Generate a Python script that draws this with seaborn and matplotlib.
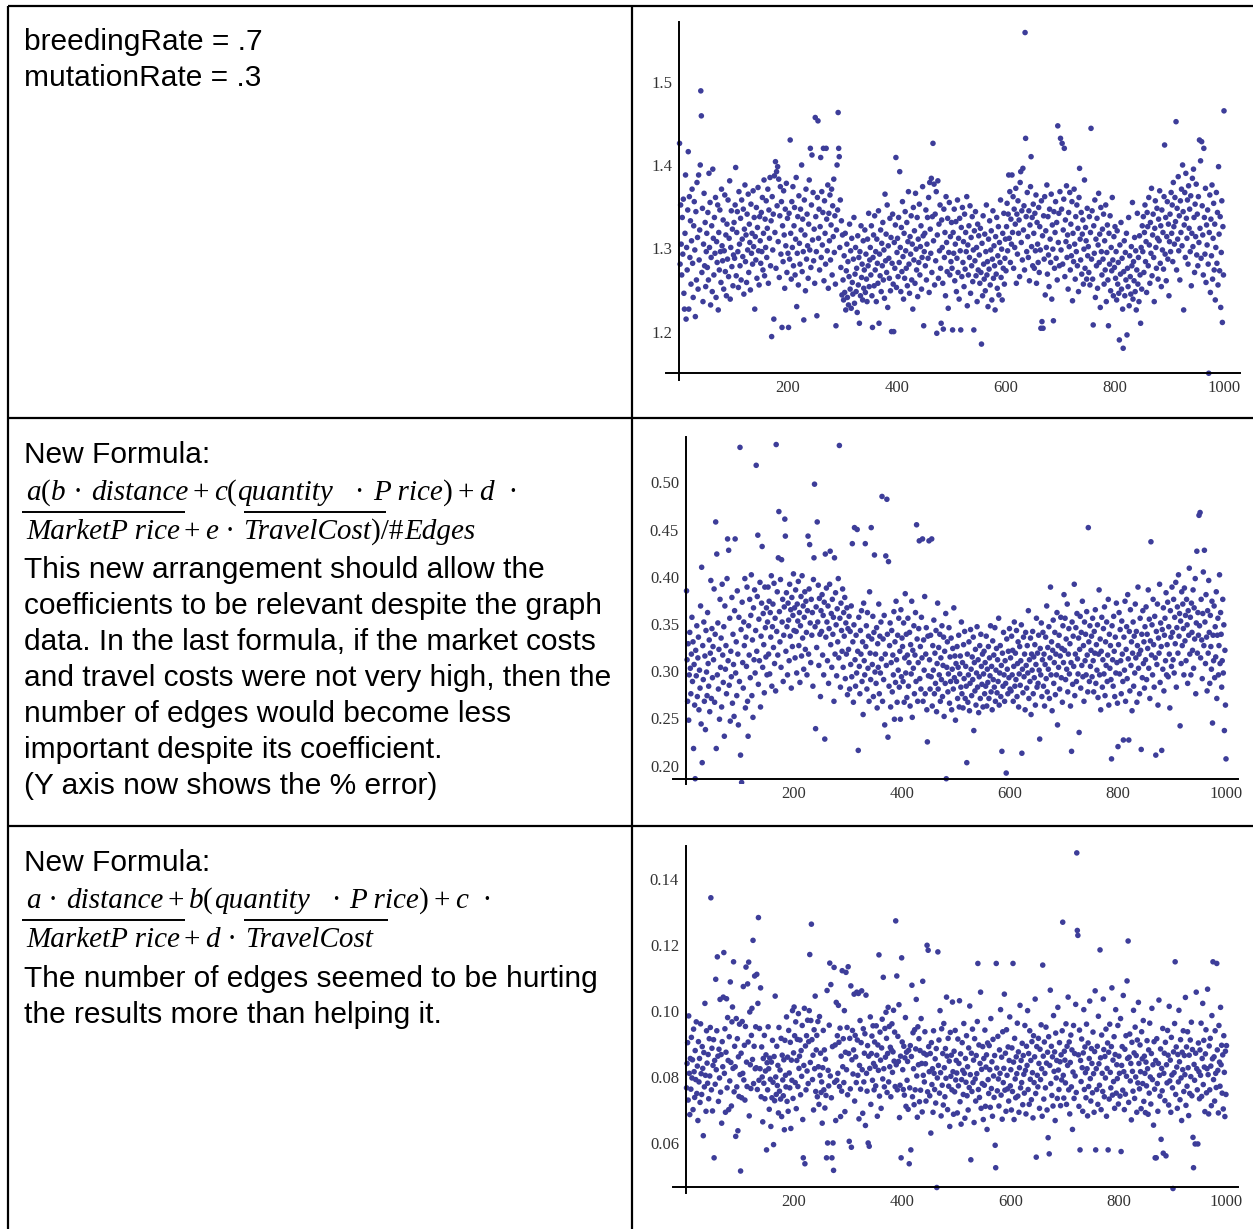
import numpy as np
import matplotlib
matplotlib.use("Agg")
import matplotlib.pyplot as plt
from matplotlib.lines import Line2D
from matplotlib.ticker import FixedLocator, FormatStrFormatter
import seaborn as sns

# ---------------------------------------------------------------------------
# Error per generation for three runs of the genetic algorithm (1000 points).
# ---------------------------------------------------------------------------

# Run 1 (breedingRate .7, mutationRate .3): thousandths above 1.0
base_err_k = [
    426, 281, 352, 305, 268, 337, 293, 359, 246, 227, 318, 388, 215, 301, 274, 346, 416, 227, 362, 289,
    333, 257, 309, 371, 282, 241, 327, 356, 298, 218, 344, 262, 379, 313, 251, 388, 286, 322, 400, 489,
    459, 271, 348, 236, 305, 366, 279, 331, 254, 296, 318, 277, 343, 262, 390, 301, 355, 232, 289, 327,
    248, 395, 312, 268, 337, 294, 361, 241, 308, 283, 352, 226, 319, 274, 346, 296, 259, 371, 303, 285,
    334, 251, 297, 364, 272, 316, 243, 329, 287, 358, 266, 312, 381, 239, 301, 345, 278, 323, 255, 292,
    331, 288, 352, 397, 267, 319, 344, 296, 253, 368, 305, 279, 336, 262, 358, 311, 290, 347, 245, 323,
    376, 284, 316, 259, 341, 298, 365, 271, 329, 307, 250, 353, 294, 318, 281, 369, 302, 337, 227, 314,
    286, 349, 264, 325, 373, 297, 256, 338, 309, 282, 343, 296, 361, 274, 318, 382, 267, 335, 301, 357,
    289, 324, 371, 258, 346, 312, 385, 279, 333, 194, 362, 298, 341, 215, 387, 319, 404, 276, 392, 351,
    398, 308, 383, 265, 339, 374, 293, 356, 205, 327, 284, 369, 316, 252, 347, 303, 378, 271, 336, 294,
    205, 342, 287, 430, 318, 263, 356, 301, 374, 279, 327, 349, 268, 311, 385, 230, 294, 338, 256, 363,
    306, 281, 347, 322, 400, 272, 335, 296, 214, 358, 316, 249, 371, 287, 341, 303, 264, 329, 382, 298,
    420, 277, 352, 412, 310, 367, 285, 323, 258, 457, 338, 296, 219, 361, 453, 312, 347, 274, 326, 409,
    289, 368, 304, 343, 420, 261, 357, 318, 281, 420, 335, 297, 376, 252, 342, 309, 364, 286, 328, 371,
    268, 351, 314, 383, 295, 339, 257, 207, 322, 400, 346, 463, 420, 410, 301, 358, 277, 333, 244, 316,
    262, 238, 291, 247, 318, 226, 273, 305, 241, 284, 232, 266, 329, 251, 297, 228, 312, 259, 245, 287,
    337, 234, 269, 301, 248, 276, 223, 315, 256, 289, 210, 296, 243, 327, 265, 281, 238, 309, 252, 274,
    322, 247, 293, 263, 236, 311, 279, 342, 254, 286, 301, 268, 327, 243, 205, 289, 316, 255, 339, 274,
    296, 236, 311, 282, 258, 345, 210, 293, 267, 322, 248, 306, 279, 331, 262, 298, 240, 365, 285, 317,
    271, 352, 229, 303, 288, 264, 336, 249, 313, 200, 282, 341, 257, 200, 307, 276, 328, 409, 253, 295,
    312, 266, 337, 283, 392, 301, 248, 325, 272, 356, 290, 239, 318, 264, 344, 297, 276, 331, 255, 308,
    368, 281, 246, 314, 293, 339, 262, 305, 227, 349, 286, 321, 258, 366, 299, 274, 337, 242, 311, 283,
    353, 268, 302, 327, 251, 289, 374, 315, 207, 296, 318, 279, 346, 262, 305, 337, 288, 361, 247, 379,
    323, 294, 384, 271, 338, 426, 309, 377, 256, 341, 285, 368, 198, 316, 381, 264, 329, 297, 352, 276,
    210, 334, 301, 258, 203, 347, 289, 319, 243, 362, 307, 272, 336, 228, 295, 355, 268, 314, 284, 331,
    276, 202, 319, 294, 347, 261, 305, 332, 248, 288, 358, 271, 312, 239, 336, 297, 202, 325, 266, 349,
    283, 308, 254, 341, 275, 319, 296, 362, 231, 304, 268, 327, 289, 351, 246, 313, 279, 338, 260, 298,
    202, 321, 285, 344, 267, 301, 236, 329, 274, 315, 292, 258, 324, 271, 185, 306, 243, 339, 281, 263,
    317, 249, 296, 352, 268, 284, 230, 311, 275, 333, 256, 298, 321, 238, 287, 345, 264, 303, 279, 226,
    314, 269, 337, 252, 291, 326, 244, 307, 283, 358, 265, 299, 238, 318, 276, 342, 257, 288, 311, 273,
    326, 354, 297, 341, 388, 312, 368, 283, 335, 305, 388, 319, 362, 276, 347, 301, 329, 372, 258, 341,
    293, 357, 318, 334, 266, 379, 392, 307, 345, 286, 396, 322, 351, 274, 559, 432, 338, 296, 367, 314,
    289, 345, 261, 328, 374, 410, 302, 337, 279, 353, 318, 276, 342, 297, 364, 258, 331, 305, 283, 349,
    271, 326, 298, 204, 357, 212, 315, 204, 339, 287, 362, 244, 321, 301, 376, 269, 338, 292, 254, 347,
    311, 283, 365, 239, 328, 299, 213, 344, 276, 319, 356, 288, 331, 262, 447, 307, 342, 279, 368, 432,
    298, 347, 426, 281, 322, 359, 420, 266, 334, 308, 375, 289, 316, 251, 343, 302, 367, 274, 329, 291,
    356, 237, 318, 284, 371, 305, 263, 338, 296, 352, 279, 324, 248, 361, 396, 311, 286, 343, 269, 317,
    334, 257, 299, 382, 276, 325, 309, 263, 348, 291, 302, 271, 338, 256, 319, 444, 287, 345, 263, 208,
    327, 294, 358, 241, 311, 279, 336, 252, 304, 366, 283, 317, 229, 349, 296, 268, 323, 287, 341, 257,
    309, 274, 352, 236, 295, 328, 262, 207, 318, 281, 339, 249, 301, 273, 361, 286, 243, 314, 277, 326,
    264, 296, 238, 321, 257, 283, 246, 190, 304, 269, 331, 251, 288, 227, 180, 272, 309, 243, 295, 262,
    318, 196, 276, 254, 337, 231, 291, 266, 245, 302, 279, 355, 239, 284, 261, 313, 248, 297, 226, 274,
    342, 257, 289, 236, 315, 268, 210, 301, 251, 327, 296, 338, 271, 319, 352, 284, 308, 247, 343, 326,
    279, 361, 304, 258, 331, 294, 372, 267, 316, 341, 289, 236, 324, 357, 301, 276, 348, 312, 263, 335,
    309, 369, 282, 327, 254, 346, 298, 319, 275, 362, 424, 293, 337, 261, 314, 356, 287, 329, 243, 308,
    341, 296, 367, 318, 352, 284, 379, 326, 305, 361, 332, 452, 274, 348, 311, 386, 297, 339, 262, 357,
    319, 371, 303, 400, 344, 226, 328, 367, 289, 390, 336, 312, 358, 281, 375, 324, 347, 296, 363, 255,
    318, 384, 302, 395, 337, 271, 353, 314, 377, 292, 341, 279, 362, 307, 430, 324, 405, 288, 428, 351,
    316, 268, 420, 337, 293, 372, 259, 328, 304, 346, 281, 150, 319, 364, 247, 335, 291, 376, 263, 312,
    354, 274, 329, 238, 301, 367, 282, 343, 256, 398, 317, 273, 338, 229, 295, 357, 211, 326, 268, 465,
]

# Run 2 (formula divided by #Edges): error in thousandths
edges_err_k = [
    385, 312, 268, 329, 248, 296, 341, 303, 276, 318, 357, 289, 331, 218, 307, 264, 186, 322, 295, 348,
    273, 314, 336, 259, 301, 282, 369, 244, 410, 203, 327, 291, 352, 268, 316, 238, 343, 299, 274, 362,
    308, 284, 333, 257, 319, 396, 271, 345, 293, 326, 312, 387, 267, 339, 458, 218, 424, 296, 351, 281,
    323, 249, 376, 304, 335, 262, 392, 317, 288, 347, 231, 369, 302, 327, 276, 398, 440, 311, 428, 285,
    356, 247, 321, 294, 378, 266, 339, 307, 252, 364, 440, 298, 331, 274, 385, 318, 243, 357, 289, 537,
    211, 344, 182, 373, 309, 282, 352, 327, 398, 261, 336, 305, 389, 268, 231, 348, 317, 376, 293, 359,
    402, 274, 333, 251, 367, 312, 386, 298, 343, 518, 321, 379, 444, 286, 355, 311, 394, 262, 337, 372,
    432, 304, 361, 328, 277, 389, 346, 315, 367, 296, 352, 389, 318, 374, 297, 362, 336, 401, 284, 347,
    371, 325, 393, 308, 356, 279, 540, 342, 384, 317, 420, 469, 363, 331, 397, 304, 418, 352, 376, 289,
    338, 368, 461, 443, 321, 383, 347, 296, 372, 354, 311, 392, 337, 365, 282, 378, 326, 359, 403, 343,
    367, 314, 386, 342, 298, 371, 353, 395, 327, 362, 288, 348, 379, 316, 401, 335, 369, 302, 357, 384,
    323, 374, 341, 296, 364, 443, 318, 387, 434, 351, 309, 376, 338, 362, 284, 397, 420, 498, 347, 239,
    368, 325, 458, 352, 391, 306, 377, 339, 273, 364, 342, 381, 317, 359, 296, 373, 228, 424, 336, 388,
    352, 311, 369, 287, 345, 392, 427, 328, 361, 304, 376, 339, 357, 268, 420, 318, 383, 349, 295, 366,
    331, 398, 314, 539, 356, 283, 372, 343, 321, 387, 304, 362, 337, 378, 292, 351, 318, 367, 275, 345,
    323, 358, 281, 342, 307, 369, 294, 435, 331, 267, 349, 452, 312, 284, 338, 298, 450, 321, 216, 357,
    305, 276, 343, 318, 364, 289, 331, 254, 372, 311, 296, 435, 326, 348, 281, 362, 303, 337, 268, 384,
    319, 291, 452, 334, 307, 358, 273, 341, 423, 299, 318, 287, 346, 261, 329, 304, 371, 276, 337, 298,
    352, 313, 485, 268, 334, 291, 359, 243, 318, 422, 306, 482, 339, 230, 416, 284, 327, 351, 262, 309,
    343, 278, 317, 296, 363, 249, 331, 288, 374, 312, 267, 338, 301, 356, 283, 321, 249, 365, 294, 335,
    326, 289, 351, 267, 314, 382, 298, 339, 272, 317, 356, 284, 309, 341, 263, 328, 297, 374, 251, 322,
    303, 348, 276, 317, 362, 289, 455, 334, 268, 309, 345, 438, 292, 326, 281, 357, 314, 440, 268, 333,
    301, 379, 276, 318, 346, 259, 225, 337, 295, 438, 312, 281, 338, 294, 440, 263, 327, 301, 354, 276,
    319, 287, 343, 257, 308, 372, 281, 325, 296, 339, 268, 314, 291, 348, 273, 306, 336, 252, 321, 287,
    361, 186, 304, 331, 278, 297, 346, 266, 315, 289, 335, 259, 302, 324, 281, 367, 293, 316, 248, 308,
    289, 326, 271, 304, 338, 262, 297, 316, 283, 352, 276, 309, 261, 328, 292, 342, 271, 305, 284, 203,
    318, 267, 296, 331, 258, 287, 344, 302, 274, 315, 291, 336, 237, 309, 279, 323, 264, 298, 347, 283,
    312, 256, 294, 327, 271, 339, 305, 286, 318, 262, 297, 321, 276, 309, 284, 337, 263, 302, 288, 326,
    271, 314, 295, 348, 278, 305, 259, 332, 291, 317, 283, 346, 268, 301, 324, 277, 312, 289, 356, 264,
    298, 327, 273, 306, 215, 319, 284, 341, 296, 268, 311, 287, 192, 334, 302, 276, 321, 293, 345, 281,
    314, 279, 337, 296, 322, 268, 305, 352, 284, 319, 291, 343, 273, 308, 331, 262, 297, 326, 285, 311,
    349, 213, 302, 277, 336, 294, 318, 259, 341, 306, 282, 327, 298, 364, 271, 312, 289, 335, 254, 318,
    301, 342, 276, 315, 293, 328, 264, 307, 356, 283, 319, 287, 338, 301, 228, 324, 296, 351, 273, 312,
    341, 284, 318, 263, 307, 336, 292, 369, 278, 325, 302, 347, 271, 314, 389, 296, 331, 258, 322, 354,
    287, 309, 341, 275, 318, 296, 362, 243, 327, 304, 338, 281, 316, 357, 293, 324, 267, 348, 309, 381,
    322, 356, 291, 334, 302, 371, 278, 318, 345, 297, 329, 263, 309, 215, 352, 286, 337, 305, 392, 274,
    318, 346, 289, 361, 313, 297, 335, 235, 323, 358, 282, 341, 306, 374, 294, 327, 268, 352, 311, 339,
    296, 363, 317, 278, 452, 331, 289, 348, 305, 322, 337, 294, 356, 311, 278, 342, 319, 365, 287, 328,
    301, 349, 272, 318, 386, 296, 334, 259, 321, 357, 283, 312, 345, 297, 368, 274, 331, 306, 352, 289,
    317, 376, 264, 339, 303, 327, 291, 207, 348, 312, 284, 358, 321, 273, 336, 298, 372, 309, 266, 220,
    328, 362, 297, 344, 311, 276, 353, 318, 289, 227, 336, 301, 374, 268, 323, 347, 292, 381, 313, 227,
    342, 279, 365, 306, 331, 258, 319, 352, 284, 337, 298, 371, 314, 342, 267, 327, 389, 303, 318, 276,
    356, 322, 217, 339, 293, 364, 308, 331, 282, 347, 312, 368, 291, 339, 324, 386, 303, 355, 271, 332,
    437, 317, 349, 296, 376, 328, 283, 358, 314, 211, 342, 307, 371, 264, 335, 319, 392, 288, 351, 326,
    216, 344, 302, 367, 279, 338, 356, 311, 383, 296, 328, 373, 294, 347, 318, 261, 364, 336, 305, 389,
    341, 312, 376, 298, 357, 329, 394, 283, 346, 368, 319, 402, 337, 361, 242, 353, 308, 384, 327, 371,
    345, 296, 388, 332, 359, 311, 376, 349, 287, 364, 338, 409, 318, 357, 296, 372, 341, 322, 386, 303,
    367, 334, 398, 276, 351, 427, 319, 362, 338, 465, 348, 468, 314, 376, 333, 292, 361, 405, 327, 428,
    352, 308, 381, 336, 279, 364, 319, 396, 341, 287, 359, 326, 302, 374, 245, 338, 311, 369, 293, 347,
    315, 384, 271, 338, 356, 296, 327, 402, 308, 362, 339, 283, 311, 376, 298, 349, 237, 322, 264, 207,
]

# Run 3 (#Edges term removed): error in ten-thousandths
no_edges_err_tk = [
    768, 842, 905, 731, 986, 812, 687, 857, 764, 921, 798, 853, 702, 946, 817, 739, 881, 793, 968, 751,
    834, 669, 908, 786, 857, 724, 962, 811, 748, 893, 827, 623, 875, 771, 1024, 806, 697, 941, 843, 782,
    869, 735, 917, 804, 951, 1344, 762, 888, 698, 836, 914, 556, 851, 779, 1097, 823, 941, 1165, 864, 727,
    885, 798, 1036, 755, 869, 661, 908, 832, 1043, 1178, 812, 947, 694, 876, 1038, 768, 981, 851, 702, 923,
    789, 1089, 845, 713, 968, 1013, 827, 1150, 756, 894, 832, 621, 978, 771, 917, 638, 862, 742, 961, 808,
    516, 873, 738, 969, 812, 1075, 792, 897, 731, 954, 1134, 846, 772, 1083, 907, 1149, 683, 998, 838, 766,
    927, 1009, 854, 1215, 781, 894, 1107, 826, 953, 829, 1112, 763, 1024, 1284, 791, 948, 826, 1071, 741, 892,
    801, 665, 857, 782, 927, 735, 819, 868, 580, 844, 762, 953, 826, 703, 858, 794, 651, 846, 738, 912,
    785, 596, 863, 729, 1046, 801, 748, 894, 775, 836, 692, 951, 758, 822, 734, 918, 681, 867, 792, 744,
    853, 641, 912, 806, 771, 983, 727, 861, 697, 942, 813, 768, 906, 645, 852, 791, 1002, 736, 874, 1013,
    926, 784, 968, 705, 851, 915, 772, 993, 827, 864, 913, 747, 881, 803, 957, 672, 556, 836, 1009, 538,
    895, 762, 926, 819, 973, 781, 908, 1002, 1172, 845, 972, 1264, 914, 793, 867, 701, 944, 826, 1046, 757,
    883, 927, 741, 969, 832, 718, 984, 806, 873, 754, 786, 661, 829, 942, 762, 883, 707, 855, 745, 556,
    1063, 601, 821, 774, 958, 1146, 804, 1081, 738, 556, 893, 601, 518, 1133, 785, 898, 669, 1027, 791, 926,
    812, 1018, 906, 772, 949, 681, 864, 758, 1123, 832, 917, 784, 1002, 696, 876, 1118, 823, 951, 747, 1135,
    872, 606, 918, 765, 1077, 588, 853, 942, 810, 883, 1052, 728, 927, 862, 784, 1058, 913, 806, 1054, 674,
    836, 972, 764, 905, 1062, 823, 691, 947, 786, 873, 932, 654, 1049, 812, 758, 896, 601, 864, 591, 827,
    983, 718, 872, 925, 791, 956, 842, 762, 907, 833, 774, 956, 867, 682, 898, 821, 1171, 743, 937, 852,
    706, 889, 976, 795, 1103, 826, 771, 948, 861, 997, 918, 754, 872, 1012, 786, 954, 832, 891, 741, 883,
    962, 815, 877, 1003, 849, 937, 772, 1274, 838, 1107, 762, 924, 848, 1020, 678, 776, 864, 556, 1162, 907,
    823, 763, 894, 746, 859, 981, 712, 876, 791, 848, 703, 882, 538, 768, 896, 580, 863, 1079, 741, 935,
    826, 717, 944, 762, 886, 1036, 804, 679, 953, 838, 917, 726, 881, 761, 978, 842, 695, 1091, 806, 873,
    786, 938, 841, 728, 868, 1200, 756, 1185, 893, 817, 744, 872, 631, 905, 778, 826, 694, 941, 812, 763,
    856, 722, 887, 466, 798, 1180, 836, 913, 752, 1002, 814, 683, 947, 776, 872, 716, 963, 829, 741, 887,
    797, 1043, 864, 702, 918, 773, 849, 651, 936, 803, 867, 762, 1028, 817, 688, 879, 756, 942, 792, 851,
    813, 692, 916, 774, 842, 1032, 726, 871, 658, 793, 905, 821, 748, 963, 812, 676, 857, 785, 926, 744,
    832, 701, 889, 769, 1016, 808, 550, 873, 757, 946, 784, 852, 663, 917, 795, 728, 866, 811, 969, 1145,
    763, 898, 739, 842, 1058, 706, 824, 781, 893, 672, 857, 776, 943, 712, 831, 868, 642, 904, 793, 751,
    896, 823, 709, 978, 766, 847, 682, 915, 804, 739, 866, 594, 526, 1145, 828, 759, 924, 795, 713, 883,
    812, 1005, 746, 861, 673, 938, 784, 827, 1052, 761, 873, 697, 944, 806, 765, 892, 728, 851, 983, 774,
    823, 701, 889, 757, 1145, 846, 672, 918, 795, 738, 862, 811, 964, 743, 877, 694, 829, 1018, 768, 851,
    784, 903, 717, 866, 809, 752, 957, 821, 689, 894, 836, 1002, 763, 872, 718, 941, 794, 851, 732, 908,
    814, 677, 926, 784, 862, 1037, 751, 558, 893, 806, 771, 918, 842, 706, 885, 793, 959, 826, 682, 1140,
    864, 734, 907, 812, 768, 952, 843, 701, 876, 617, 923, 568, 836, 1064, 781, 894, 745, 862, 713, 987,
    818, 877, 669, 934, 798, 851, 736, 1012, 822, 763, 905, 847, 714, 868, 792, 941, 1270, 806, 737, 879,
    852, 783, 962, 718, 894, 836, 1043, 762, 907, 689, 845, 928, 771, 883, 642, 816, 957, 736, 872, 804,
    1021, 754, 1480, 1245, 1230, 868, 712, 943, 580, 851, 787, 916, 829, 697, 874, 1005, 763, 892, 814, 738,
    961, 826, 683, 904, 772, 857, 1031, 796, 728, 887, 842, 753, 937, 811, 694, 878, 1062, 580, 826, 763,
    894, 718, 985, 841, 776, 1186, 859, 702, 928, 812, 757, 1037, 884, 741, 863, 798, 946, 682, 827, 904,
    580, 876, 734, 961, 815, 768, 893, 1071, 746, 852, 787, 923, 706, 869, 1005, 752, 838, 796, 957, 719,
    864, 812, 743, 978, 575, 836, 893, 761, 1048, 817, 702, 885, 749, 926, 803, 1092, 857, 1213, 724, 861,
    931, 789, 842, 671, 906, 818, 758, 1003, 874, 736, 952, 801, 866, 694, 913, 783, 1027, 842, 765, 898,
    817, 705, 938, 856, 781, 972, 727, 864, 812, 693, 846, 774, 911, 826, 688, 883, 752, 964, 801, 719,
    872, 1009, 793, 838, 655, 908, 764, 556, 851, 556, 917, 781, 697, 842, 1034, 806, 743, 886, 612, 827,
    759, 948, 570, 812, 873, 729, 906, 562, 838, 783, 942, 867, 716, 1015, 789, 852, 694, 921, 807, 768,
    463, 877, 814, 963, 1150, 748, 892, 831, 706, 869, 786, 1003, 847, 732, 914, 798, 669, 876, 823, 941,
    757, 866, 808, 1042, 715, 892, 773, 938, 829, 684, 867, 751, 913, 802, 967, 744, 884, 618, 526, 839,
    791, 598, 873, 1058, 826, 762, 598, 904, 817, 735, 883, 806, 964, 742, 857, 1024, 778, 912, 831, 696,
    871, 944, 753, 826, 1067, 808, 689, 895, 762, 918, 834, 714, 987, 856, 1150, 793, 862, 728, 941, 812,
    769, 1145, 883, 821, 692, 957, 846, 773, 1012, 838, 897, 752, 868, 704, 926, 815, 681, 879, 748, 896,
]

x_ticks = [200, 400, 600, 800, 1000]

cell1_lines = ["breedingRate = .7", "mutationRate = .3"]
cell2_heading = "New Formula:"
# formula pieces: (text, italic); "+" signs get a little padding when drawn
cell2_formula = [
    [("a", True), ("(", False), ("b", True), (" \u00b7 ", False), ("distance", True),
     ("+", False), ("c", True), ("(", False), ("quantity", True), ("   \u00b7 ", False),
     ("P rice", True), (")", False), ("+", False), ("d", True), ("  \u00b7", False)],
    [("MarketP rice", True), ("+", False), ("e", True), (" \u00b7 ", False),
     ("TravelCost", True), (")/#", False), ("Edges", True)],
]
cell2_lines = ["This new arrangement should allow the",
               "coefficients to be relevant despite the graph",
               "data. In the last formula, if the market costs",
               "and travel costs were not very high, then the",
               "number of edges would become less",
               "important despite its coefficient.",
               "(Y axis now shows the % error)"]
cell3_heading = "New Formula:"
cell3_formula = [
    [("a", True), (" \u00b7 ", False), ("distance", True), ("+", False), ("b", True),
     ("(", False), ("quantity", True), ("   \u00b7 ", False), ("P rice", True),
     (")", False), ("+", False), ("c", True), ("  \u00b7", False)],
    [("MarketP rice", True), ("+", False), ("d", True), (" \u00b7 ", False),
     ("TravelCost", True)],
]
cell3_lines = ["The number of edges seemed to be hurting",
               "the results more than helping it."]

# ---------------------------------------------------------------------------
sns.set_style("white")
plt.rcParams["font.family"] = ["Liberation Sans", "DejaVu Sans"]

W, H = 1253, 1229
fig = plt.figure(figsize=(W / 100, H / 100), dpi=100)
fig.patch.set_facecolor("white")
renderer = fig.canvas.get_renderer()


def fline(x1, y1, x2, y2, lw=1.6):
    fig.add_artist(Line2D([x1 / W, x2 / W], [1 - y1 / H, 1 - y2 / H],
                          transform=fig.transFigure, color="black", lw=lw,
                          solid_capstyle="butt"))


# table grid
fline(8, 6, W, 6)
fline(8, 6, 8, H)
fline(632, 6, 632, H)
fline(8, 418, W, 418)
fline(8, 826, W, 826)


def ftext(x, y, s, size=21.5):
    fig.text(x / W, 1 - y / H, s, fontsize=size, va="baseline", ha="left",
             color="black")


def formula(x, y, pieces, size=21):
    cx = x
    for s, italic in pieces:
        pad = 4 if s == "+" else 0
        cx += pad
        t = fig.text(cx / W, 1 - y / H, s, fontsize=size, va="baseline", ha="left",
                     family="Liberation Serif",
                     style="italic" if italic else "normal", color="black")
        cx += t.get_window_extent(renderer=renderer).width + pad
        if not italic:
            cx += 1


# left-hand notes
for i, s in enumerate(cell1_lines):
    ftext(24, 50 + 36 * i, s)

ftext(24, 463, cell2_heading)
formula(26, 500, cell2_formula[0])
formula(26, 539, cell2_formula[1])
for i, s in enumerate(cell2_lines):
    ftext(24, 578 + 36 * i, s)
fline(22, 512, 185, 512, lw=1.4)
fline(244, 512, 386, 512, lw=1.4)

ftext(24, 871, cell3_heading)
formula(26, 908, cell3_formula[0])
formula(26, 947, cell3_formula[1])
for i, s in enumerate(cell3_lines):
    ftext(24, 987 + 36 * i, s)
fline(22, 920, 185, 920, lw=1.4)
fline(244, 920, 388, 920, lw=1.4)


# ---------------------------------------------------------------------------
def make_axes(x0px, xs, yref, yrefpx, ys, xlim, ylim):
    left = x0px + xlim[0] * xs
    right = x0px + xlim[1] * xs
    top = yrefpx - (ylim[1] - yref) * ys
    bottom = yrefpx - (ylim[0] - yref) * ys
    return fig.add_axes([left / W, 1 - bottom / H, (right - left) / W, (bottom - top) / H])


def draw_panel(ax, values, xlim, ylim, y_origin, y_major, y_minor, fmt):
    gen = np.arange(1, len(values) + 1)
    sns.scatterplot(x=gen, y=values, ax=ax, s=16, color="#3d3d99",
                    linewidth=0, edgecolor="none", legend=False)
    ax.set_xlim(*xlim)
    ax.set_ylim(*ylim)
    ax.set_xlabel("")
    ax.set_ylabel("")
    ax.set_facecolor("none")
    for s in ("top", "right"):
        ax.spines[s].set_visible(False)
    ax.spines["left"].set_position(("data", 0))
    ax.spines["bottom"].set_position(("data", y_origin))
    for s in ("left", "bottom"):
        ax.spines[s].set_linewidth(1.4)
        ax.spines[s].set_color("black")
    ax.xaxis.set_major_locator(FixedLocator(x_ticks))
    ax.xaxis.set_minor_locator(FixedLocator(np.arange(50, 1000, 50)))
    ax.yaxis.set_major_locator(FixedLocator(y_major))
    ax.yaxis.set_minor_locator(FixedLocator(y_minor))
    ax.yaxis.set_major_formatter(FormatStrFormatter(fmt))
    ax.tick_params(which="major", direction="in", length=6, width=1.0,
                   color="black", labelcolor="#333333", labelsize=12, pad=5,
                   labelfontfamily="Liberation Serif")
    ax.tick_params(which="minor", direction="in", length=3.5, width=0.9,
                   color="black")
    ax.grid(False)


# run 1
ax1 = make_axes(679, 0.545, 1.3, 248.3, 833, (-24, 1029), (1.1416, 1.572))
draw_panel(ax1, 1 + np.array(base_err_k) / 1000, (-24, 1029), (1.1416, 1.572),
           1.15, [1.2, 1.3, 1.4, 1.5], np.arange(1.16, 1.565, 0.02), "%.1f")

# run 2
ax2 = make_axes(686, 0.540, 0.40, 576.7, 944, (-24, 1022), (0.180, 0.548))
draw_panel(ax2, np.array(edges_err_k) / 1000, (-24, 1022), (0.180, 0.548),
           0.186, [0.20, 0.25, 0.30, 0.35, 0.40, 0.45, 0.50],
           np.arange(0.19, 0.545, 0.01), "%.2f")

# run 3
ax3 = make_axes(686, 0.5405, 0.08, 1077.3, 3300, (-24, 1022), (0.045, 0.150))
draw_panel(ax3, np.array(no_edges_err_tk) / 10000, (-24, 1022), (0.045, 0.150),
           0.0468, [0.06, 0.08, 0.10, 0.12, 0.14],
           np.arange(0.050, 0.1475, 0.005), "%.2f")

fig.savefig("out.png", dpi=100, facecolor="white")
